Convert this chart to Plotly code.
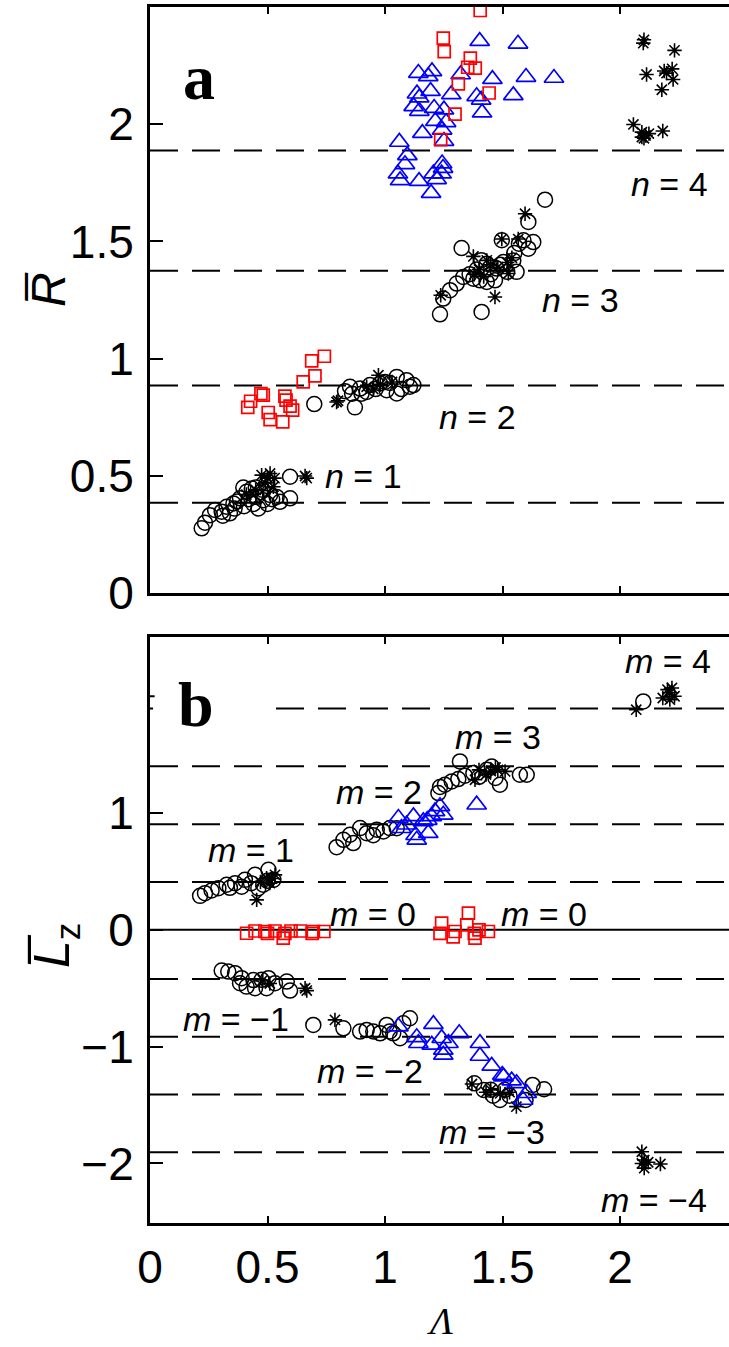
import plotly.graph_objects as go

# ---------------- Panel a data (Lambda, R-bar) ----------------
a_circ_x = [0.220, 0.234, 0.255, 0.277, 0.305, 0.326, 0.340, 0.355, 0.383, 0.397, 0.411, 0.433, 0.454, 0.461,
            0.482, 0.496, 0.511, 0.539, 0.553, 0.596, 0.596, 0.37, 0.42, 0.44, 0.47, 0.50, 0.52, 0.31, 0.36,
            0.40, 0.45, 0.48,
            0.699, 0.830, 0.851, 0.872, 0.894, 0.922, 0.936, 0.979, 1.007, 1.021, 1.050, 1.050, 1.092, 1.106,
            1.121, 0.96, 1.00, 1.07, 0.90, 0.86,
            1.681, 1.610, 1.326, 1.631, 1.589, 1.610, 1.497, 1.468, 1.333, 1.305, 1.277, 1.248, 1.234, 1.411,
            1.560, 1.376, 1.404, 1.433, 1.433, 1.504, 1.546, 1.475, 1.390, 1.520, 1.36, 1.45, 1.49, 1.41,
            1.55, 1.57]
a_circ_y = [0.276, 0.300, 0.332, 0.354, 0.347, 0.368, 0.340, 0.382, 0.404, 0.450, 0.432, 0.446, 0.410, 0.361,
            0.396, 0.468, 0.418, 0.410, 0.389, 0.404, 0.496, 0.39, 0.40, 0.38, 0.43, 0.38, 0.40, 0.33, 0.36,
            0.37, 0.45, 0.44,
            0.806, 0.861, 0.880, 0.792, 0.872, 0.858, 0.887, 0.894, 0.865, 0.896, 0.922, 0.851, 0.908, 0.880,
            0.887, 0.87, 0.90, 0.87, 0.85, 0.85,
            1.678, 1.583, 1.472, 1.497, 1.505, 1.469, 1.505, 1.334, 1.348, 1.320, 1.292, 1.256, 1.189, 1.199,
            1.370, 1.341, 1.334, 1.327, 1.405, 1.412, 1.419, 1.384, 1.380, 1.370, 1.36, 1.36, 1.40, 1.42,
            1.45, 1.49]

a_ast_x = [0.511, 0.475, 0.53, 0.660, 0.667, 0.525, 0.45, 0.41, 0.49, 0.50,
           0.794, 0.80, 0.972, 0.922, 0.98, 1.03, 0.95,
           1.596, 1.376, 1.468, 1.237, 1.497, 1.567, 1.525, 1.433, 1.45, 1.48, 1.52, 1.40, 1.54, 1.38, 1.42,
           2.102, 2.099, 2.232, 2.113, 2.188, 2.222, 2.198, 2.226, 2.178, 2.057, 2.093, 2.109, 2.093, 2.123,
           2.182, 2.102]
a_ast_y = [0.510, 0.503, 0.49, 0.499, 0.49, 0.453, 0.44, 0.42, 0.47, 0.49,
           0.815, 0.82, 0.929, 0.88, 0.89, 0.90, 0.87,
           1.618, 1.436, 1.263, 1.270, 1.51, 1.51, 1.363, 1.419, 1.40, 1.39, 1.41, 1.38, 1.43, 1.36, 1.35,
           2.360, 2.346, 2.315, 2.212, 2.227, 2.236, 2.218, 2.191, 2.147, 1.999, 1.966, 1.952, 1.945, 1.960,
           1.971, 1.94]

a_tri_x = [1.403, 1.566, 1.142, 1.200, 1.184, 1.322, 1.457, 1.600, 1.719, 1.194, 1.136, 1.146, 1.282, 1.390,
           1.409, 1.546, 1.122, 1.146, 1.209, 1.251, 1.413, 1.214, 1.260, 1.159, 1.243, 1.251, 1.061, 1.095,
           1.085, 1.055, 1.064, 1.145, 1.243, 1.247, 1.206, 1.241, 1.220, 1.196]
a_tri_y = [2.354, 2.343, 2.218, 2.225, 2.204, 2.212, 2.192, 2.201, 2.197, 2.141, 2.130, 2.113, 2.127, 2.119,
           2.104, 2.123, 2.076, 2.056, 2.069, 2.062, 2.049, 2.013, 2.008, 1.962, 1.976, 1.928, 1.924, 1.867,
           1.829, 1.789, 1.760, 1.757, 1.832, 1.813, 1.789, 1.789, 1.765, 1.706]

a_sq_x = [0.742, 0.688, 0.702, 0.652, 0.472, 0.482, 0.428, 0.416, 0.574, 0.579, 0.596, 0.607, 0.503, 0.511,
          0.565,
          1.405, 1.248, 1.252, 1.363, 1.352, 1.384, 1.312, 1.443, 1.298, 1.237]
a_sq_y = [1.010, 0.990, 0.926, 0.901, 0.851, 0.844, 0.818, 0.792, 0.840, 0.823, 0.797, 0.780, 0.770, 0.740,
          0.730,
          2.485, 2.367, 2.310, 2.282, 2.243, 2.239, 2.172, 2.133, 2.043, 1.934]

# ---------------- Panel b data (Lambda, Lz-bar) ----------------
b_circ_x = [0.213, 0.234, 0.262, 0.291, 0.326, 0.340, 0.362, 0.390, 0.404, 0.447, 0.504, 0.482, 0.461, 0.525,
            0.43, 0.50,
            0.794, 0.823, 0.865, 0.851, 0.894, 0.922, 0.950, 0.965, 0.993, 1.021, 1.050,
            1.227, 1.234, 1.255, 1.284, 1.312, 1.340, 1.319, 1.376, 1.400, 1.433, 1.454, 1.470, 1.489, 1.574,
            1.603,
            2.099,
            0.305, 0.333, 0.362, 0.390, 0.383, 0.411, 0.440, 0.447, 0.475, 0.504, 0.496, 0.532, 0.582, 0.596,
            0.695, 0.823, 0.894, 0.922, 0.950, 0.979, 1.007, 1.020, 1.035, 1.064, 1.106, 1.078,
            1.380, 1.420, 1.450, 1.489, 1.510, 1.598, 1.628, 1.677, 1.46, 1.53]
b_circ_y = [0.291, 0.314, 0.337, 0.357, 0.386, 0.360, 0.400, 0.370, 0.428, 0.471, 0.514, 0.386, 0.357, 0.428,
            0.40, 0.42,
            0.708, 0.771, 0.743, 0.814, 0.871, 0.828, 0.810, 0.857, 0.842, 0.871, 0.870,
            1.171, 1.223, 1.242, 1.271, 1.291, 1.320, 1.442, 1.343, 1.310, 1.371, 1.399, 1.300, 1.242, 1.328,
            1.328,
            1.956,
            -0.349, -0.357, -0.371, -0.414, -0.457, -0.486, -0.430, -0.500, -0.428, -0.414, -0.500, -0.457,
            -0.443, -0.520,
            -0.814, -0.843, -0.871, -0.857, -0.870, -0.886, -0.814, -0.870, -0.886, -0.928, -0.757, -0.800,
            -1.314, -1.371, -1.370, -1.457, -1.370, -1.457, -1.328, -1.365, -1.42, -1.42]

b_ast_x = [0.454, 0.496, 0.532, 0.510, 0.470, 0.52,
           1.383, 1.400, 1.450, 1.480, 1.511, 1.470, 1.43,
           2.069, 2.202, 2.221, 2.182, 2.212, 2.232, 2.21,
           0.667, 0.660, 0.480, 0.510,
           0.787,
           1.370, 1.559, 1.430, 1.490, 1.530, 1.45,
           2.093, 2.103, 2.093, 2.172, 2.103, 2.120]
b_ast_y = [0.257, 0.443, 0.471, 0.400, 0.41, 0.44,
           1.285, 1.370, 1.360, 1.370, 1.357, 1.390, 1.33,
           1.885, 2.057, 2.071, 1.985, 1.971, 2.000, 2.03,
           -0.520, -0.500, -0.430, -0.460,
           -0.771,
           -1.320, -1.514, -1.390, -1.400, -1.390, -1.37,
           -1.900, -1.971, -2.000, -2.005, -2.040, -1.990]

b_tri_x = [1.057, 1.070, 1.092, 1.121, 1.135, 1.130, 1.163, 1.180, 1.184, 1.199, 1.213, 1.234, 1.248, 1.390,
           1.057, 1.135, 1.142, 1.206, 1.199, 1.241, 1.248, 1.248, 1.270, 1.316, 1.404, 1.404, 1.454, 1.504,
           1.539, 1.560, 1.603, 1.588, 1.499]
b_tri_y = [0.957, 0.870, 0.900, 0.971, 0.771, 0.810, 0.928, 0.940, 0.828, 0.971, 1.014, 1.057, 0.985, 1.071,
           -0.828, -0.920, -0.971, -0.808, -0.985, -0.928, -1.028, -1.071, -0.971, -0.886, -0.971, -1.080,
           -1.165, -1.257, -1.291, -1.314, -1.399, -1.457, -1.243]

b_sq_x = [0.411, 0.447, 0.489, 0.500, 0.532, 0.567, 0.574, 0.600, 0.640, 0.690, 0.695, 0.740,
          1.241, 1.234, 1.298, 1.290, 1.355, 1.348, 1.380, 1.383, 1.400, 1.440]
b_sq_y = [-0.029, -0.010, -0.014, -0.030, -0.010, -0.071, -0.030, -0.010, -0.010, -0.030, -0.014, -0.014,
          0.057, -0.030, -0.014, -0.060, 0.143, 0.043, -0.030, -0.071, 0.000, -0.014]

# reference levels
a_levels = [0.385, 0.885, 1.375, 1.888]
b_levels = [0.41, 0.905, 1.40, 1.895, -0.42, -0.915, -1.41, -1.905]

# tick labels
a_yticks = [0, 0.5, 1, 1.5, 2]
a_yticktext = ["0", "0.5", "1", "1.5", "2"]
b_yticks = [-2, -1, 0, 1]
b_yticktext = ["\u22122", "\u22121", "0", "1"]
xticks = [0, 0.5, 1, 1.5, 2]
xticktext = ["0", "0.5", "1", "1.5", "2"]

# labels
a_labels = [("<i>n</i> = 1", 0.736, 0.50), ("<i>n</i> = 2", 1.22, 0.75),
            ("<i>n</i> = 3", 1.66, 1.249), ("<i>n</i> = 4", 2.04, 1.743)]
b_labels = [("<i>m</i> = 4", 2.013, 2.30), ("<i>m</i> = 3", 1.29, 1.65), ("<i>m</i> = 2", 0.783, 1.18),
            ("<i>m</i> = 1", 0.238, 0.686), ("<i>m</i> = 0", 0.757, 0.137), ("<i>m</i> = 0", 1.485, 0.137),
            ("<i>m</i> = \u22121", 0.134, -0.763), ("<i>m</i> = \u22122", 0.70, -1.21),
            ("<i>m</i> = \u22123", 1.22, -1.73), ("<i>m</i> = \u22124", 1.91, -2.31)]

W, H = 729, 1347
FONT = "Liberation Sans"
BLUE = "#0000ff"
RED = "#ff0000"

fig = go.Figure()


def add_series(xs, ys, xa, ya, symbol, color, size, lw):
    fig.add_trace(go.Scatter(x=xs, y=ys, xaxis=xa, yaxis=ya, mode="markers",
                             marker=dict(symbol=symbol, size=size, color=color,
                                         line=dict(color=color, width=lw)),
                             showlegend=False, hoverinfo="skip"))


for xa, ya, cx, cy, sx, sy, tx, ty, qx, qy in [
        ("x", "y", a_circ_x, a_circ_y, a_ast_x, a_ast_y, a_tri_x, a_tri_y, a_sq_x, a_sq_y),
        ("x2", "y2", b_circ_x, b_circ_y, b_ast_x, b_ast_y, b_tri_x, b_tri_y, b_sq_x, b_sq_y)]:
    add_series(cx, cy, xa, ya, "circle-open", "black", 15, 1.5)
    add_series(sx, sy, xa, ya, "asterisk-open", "black", 12, 1.6)
    add_series(tx, ty, xa, ya, "triangle-up-open", BLUE, 17, 1.7)
    add_series(qx, qy, xa, ya, "square-open", RED, 12, 1.7)

shapes = []
for lv in a_levels:
    shapes.append(dict(type="line", xref="x domain", yref="y", x0=0, x1=1, y0=lv, y1=lv,
                       line=dict(color="black", width=2, dash="28px,14px"), layer="below"))
for lv in b_levels:
    shapes.append(dict(type="line", xref="x2 domain", yref="y2", x0=0, x1=1, y0=lv, y1=lv,
                       line=dict(color="black", width=2, dash="28px,14px"), layer="below"))
shapes.append(dict(type="line", xref="x2 domain", yref="y2", x0=0, x1=1, y0=0, y1=0,
                   line=dict(color="black", width=2), layer="below"))
# white box behind panel label b
shapes.append(dict(type="rect", xref="x2", yref="y2", x0=0.013, x1=0.528, y0=1.72, y1=2.35,
                   fillcolor="white", line=dict(width=0), layer="above"))
# remnant of the tick at 2 (rest hidden by the label box)
shapes.append(dict(type="line", xref="x2 domain", yref="y2", x0=0, x1=0.008, y0=2, y1=2,
                   line=dict(color="black", width=2), layer="above"))

ann = []
for t, x, y in a_labels:
    ann.append(dict(text=t, x=x, y=y, xref="x", yref="y", xanchor="left", yanchor="middle",
                    showarrow=False, font=dict(family=FONT, size=34, color="black")))
for t, x, y in b_labels:
    ann.append(dict(text=t, x=x, y=y, xref="x2", yref="y2", xanchor="left", yanchor="middle",
                    showarrow=False, font=dict(family=FONT, size=34, color="black")))
ann.append(dict(text="<b>a</b>", x=0.21, y=2.2, xref="x", yref="y", showarrow=False,
                font=dict(family="Liberation Serif", size=64, color="black")))
ann.append(dict(text="<b>b</b>", x=0.196, y=1.93, xref="x2", yref="y2", showarrow=False,
                font=dict(family="Liberation Serif", size=64, color="black")))
ann.append(dict(text="<i>\u039b</i>", x=1.234, y=0.002, xref="x2", yref="paper", showarrow=False,
                xanchor="center", yanchor="bottom",
                font=dict(family="Liberation Serif", size=38, color="black")))
ann.append(dict(text="<i>R\u0305</i>", x=48 / W, y=1 - 290 / H, xref="paper", yref="paper",
                xanchor="center", yanchor="middle",
                showarrow=False, textangle=-90, font=dict(family=FONT, size=48, color="black")))
ann.append(dict(text="<i>L\u0305</i><sub>z</sub>", x=55 / W, y=1 - 945 / H, xref="paper", yref="paper",
                xanchor="center", yanchor="middle",
                showarrow=False, textangle=-90, font=dict(family=FONT, size=50, color="black")))

xdom = [150 / W, 1.0]
xrange_ = [0, (W - 150) / 235.0]
common_x = dict(domain=xdom, range=xrange_, showline=True, linewidth=3, linecolor="black", mirror="ticks",
                ticks="inside", ticklen=7, tickwidth=2, tickcolor="black", showgrid=False, zeroline=False,
                automargin=False,
                tickvals=xticks, ticktext=xticktext, tickfont=dict(family=FONT, size=46, color="black"))
common_y = dict(showline=True, linewidth=3, linecolor="black", mirror=False, ticks="inside", ticklen=13,
                tickwidth=2, tickcolor="black", showgrid=False, zeroline=False, automargin=False,
                tickfont=dict(family=FONT, size=46, color="black"), ticklabelstandoff=4)

fig.update_layout(
    template="none",
    width=W, height=H, margin=dict(l=0, r=0, t=0, b=0, pad=0, autoexpand=False),
    paper_bgcolor="white", plot_bgcolor="white",
    xaxis=dict(common_x, anchor="y", showticklabels=False),
    yaxis=dict(common_y, domain=[1 - 593 / H, 1 - 7 / H], range=[0, 2.5], anchor="x",
               tickvals=a_yticks, ticktext=a_yticktext),
    xaxis2=dict(common_x, anchor="y2", ticklabelstandoff=2),
    yaxis2=dict(common_y, domain=[1 - 1223 / H, 1 - 636.7 / H], range=[-2.51, 2.51], anchor="x2",
                tickvals=b_yticks, ticktext=b_yticktext),
    shapes=shapes, annotations=ann,
)

fig.write_html("out.html", config={"displayModeBar": False},
               post_script="document.body.style.margin='0';document.body.style.overflow='hidden';")
